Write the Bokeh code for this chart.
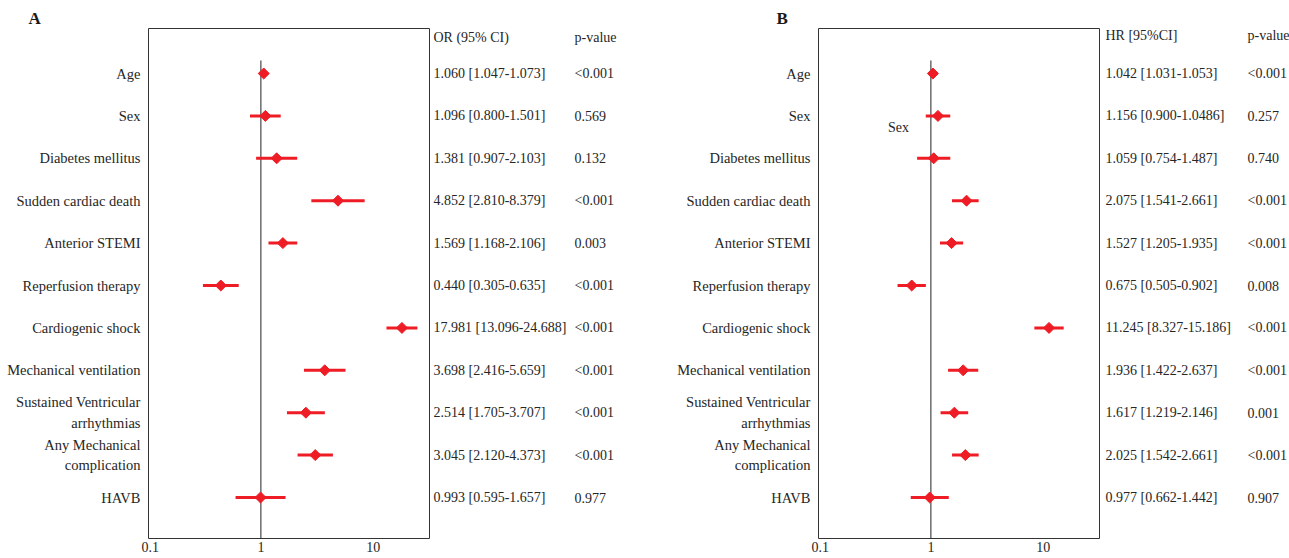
import math
from bokeh.plotting import figure
from bokeh.layouts import row
from bokeh.models import Range1d, FixedTicker, CustomJSTickFormatter
from bokeh.core.properties import value
from bokeh.embed import file_html
from bokeh.resources import INLINE

# ---------------- data ----------------
categories = ["Age", "Sex", "Diabetes mellitus", "Sudden cardiac death", "Anterior STEMI",
              "Reperfusion therapy", "Cardiogenic shock", "Mechanical ventilation",
              "Sustained Ventricular\narrhythmias", "Any Mechanical\ncomplication", "HAVB"]

or_est = [1.060, 1.096, 1.381, 4.852, 1.569, 0.440, 17.981, 3.698, 2.514, 3.045, 0.993]
or_lo = [1.047, 0.800, 0.907, 2.810, 1.168, 0.305, 13.096, 2.416, 1.705, 2.120, 0.595]
or_hi = [1.073, 1.501, 2.103, 8.379, 2.106, 0.635, 24.688, 5.659, 3.707, 4.373, 1.657]
or_p = ["<0.001", "0.569", "0.132", "<0.001", "0.003", "<0.001", "<0.001", "<0.001",
        "<0.001", "<0.001", "0.977"]

hr_est = [1.042, 1.156, 1.059, 2.075, 1.527, 0.675, 11.245, 1.936, 1.617, 2.025, 0.977]
hr_lo = [1.031, 0.900, 0.754, 1.541, 1.205, 0.505, 8.327, 1.422, 1.219, 1.542, 0.662]
hr_hi = [1.053, 1.486, 1.487, 2.661, 1.935, 0.902, 15.186, 2.637, 2.146, 2.661, 1.442]
hr_hi_text = ["1.053", "1.0486", "1.487", "2.661", "1.935", "0.902", "15.186", "2.637",
              "2.146", "2.661", "1.442"]
hr_p = ["<0.001", "0.257", "0.740", "<0.001", "<0.001", "0.008", "<0.001", "<0.001",
        "0.001", "<0.001", "0.907"]

x_ticks = [0.1, 1, 10]
or_header = ["OR (95% CI)", "p-value"]
hr_header = ["HR [95%CI]", "p-value"]

or_ci_text = [f"{e:.3f} [{l:.3f}-{h:.3f}]" for e, l, h in zip(or_est, or_lo, or_hi)]
hr_ci_text = [f"{e:.3f} [{l:.3f}-{h}]" for e, l, h in zip(hr_est, hr_lo, hr_hi_text)]

# ---------------- layout constants ----------------
H = 558
FR_TOP = 28
FR_BOT = 538
ROW0 = 73.0
ROWH = 42.4
RED = "#ee1c25"
TXT = "#262626"
FONT = value("Liberation Serif")
FS = "14px"
rows = list(range(len(categories)))


def row_of(img_y):
    return (img_y - ROW0) / ROWH


def yr():
    return Range1d(row_of(FR_BOT), row_of(FR_TOP))


def blank_fig(w):
    p = figure(width=w, height=H, x_range=Range1d(0, w), y_range=yr(),
               x_axis_location=None, y_axis_location=None, toolbar_location=None,
               output_backend="svg", min_border_left=0, min_border_right=0,
               min_border_top=FR_TOP, min_border_bottom=H - FR_BOT,
               outline_line_color=None)
    p.grid.visible = False
    p.background_fill_color = "white"
    p.border_fill_color = "white"
    return p


def label_fig(w, x_right, letter, letter_x):
    p = blank_fig(w)
    p.text(x=[x_right] * len(categories), y=rows, text=categories, text_align="right",
           text_baseline="middle", text_font=FONT, text_font_size="14.5px",
           text_color=TXT, text_line_height=1.3)
    p.title.text = letter
    p.title.align = "left"
    p.title.offset = letter_x
    p.title.standoff = 2
    p.title.text_font = "Liberation Serif"
    p.title.text_font_size = "17px"
    p.title.text_font_style = "bold"
    p.title.text_color = "#1a1a1a"
    return p


def plot_fig(est, lo, hi):
    p = figure(width=291, height=H, x_axis_type="log", x_range=Range1d(0.1, 10 ** 1.5),
               y_range=yr(), y_axis_location=None,
               toolbar_location=None, output_backend="svg",
               min_border_left=7, min_border_right=3, min_border_top=FR_TOP,
               min_border_bottom=H - FR_BOT)
    p.grid.visible = False
    p.outline_line_color = "#333333"
    p.outline_line_width = 1
    p.segment(x0=[1], y0=[row_of(60)], x1=[1], y1=[row_of(FR_BOT)], line_color="#222222",
              line_width=1)
    p.segment(x0=lo, y0=rows, x1=hi, y1=rows, line_color=RED, line_width=3)
    p.scatter(x=est, y=rows, marker="square", angle=math.pi / 4, size=7.8,
              fill_color=RED, line_color=RED)
    ax = p.xaxis[0]
    ax.ticker = FixedTicker(ticks=x_ticks)
    ax.formatter = CustomJSTickFormatter(
        code="return tick < 1 ? tick.toFixed(1) : tick.toFixed(0);")
    ax.major_tick_out = 0
    ax.major_tick_in = 0
    ax.minor_tick_out = 0
    ax.minor_tick_in = 0
    ax.major_tick_line_color = None
    ax.minor_tick_line_color = None
    ax.axis_line_color = None
    ax.major_label_standoff = 3
    ax.major_label_text_font = "Liberation Serif"
    ax.major_label_text_font_size = FS
    ax.major_label_text_color = TXT
    return p


def text_fig(w, header, ci_text, p_text, c1, c2, header_y):
    p = blank_fig(w)
    p.text(x=[c1, c2], y=[row_of(header_y)] * 2, text=header, text_align="left",
           text_baseline="middle", text_font=FONT, text_font_size=FS, text_color=TXT)
    p.text(x=[c1] * len(ci_text), y=rows, text=ci_text, text_align="left",
           text_baseline="middle", text_font=FONT, text_font_size=FS, text_color=TXT)
    p.text(x=[c2] * len(p_text), y=rows, text=p_text, text_align="left",
           text_baseline="middle", text_font=FONT, text_font_size=FS, text_color=TXT)
    return p


fa_lab = label_fig(141, 140, "A", 28)
fa_plot = plot_fig(or_est, or_lo, or_hi)
fa_txt = text_fig(218, or_header, or_ci_text, or_p, 1, 142, 37)

fb_lab = label_fig(161, 160, "B", 126)
fb_plot = plot_fig(hr_est, hr_lo, hr_hi)
fb_plot.text(x=[0.515], y=[row_of(127)], text=["Sex"], text_align="center",
             text_baseline="middle", text_font=FONT, text_font_size=FS, text_color=TXT)
fb_txt = text_fig(187, hr_header, hr_ci_text, hr_p, 3, 145, 35)

layout = row(fa_lab, fa_plot, fa_txt, fb_lab, fb_plot, fb_txt)

open("out.html", "w").write(file_html(layout, INLINE))
